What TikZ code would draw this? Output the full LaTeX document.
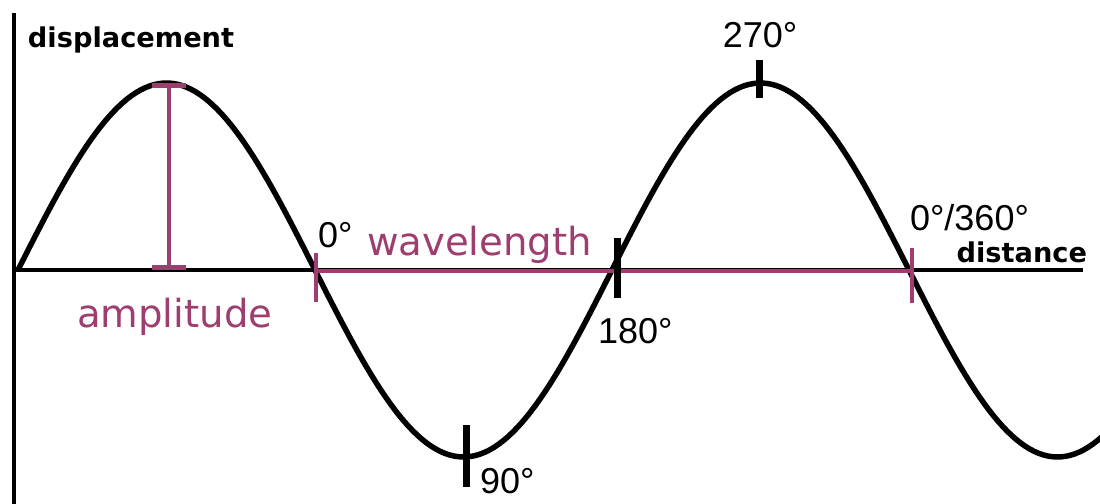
\documentclass[tikz,border=0pt]{standalone}
\usepackage{fontspec}
\setmainfont{DejaVu Sans}
\newfontfamily\degfont{Liberation Sans}
\usetikzlibrary{positioning, calc}

\definecolor{wavepurple}{RGB}{158,62,112}

\begin{document}
\begin{tikzpicture}[x=0.02cm, y=-0.02cm,
        every node/.style={draw=none, inner sep=0pt, outer sep=0pt},
        axisline/.style={line width=0.09cm, black},
        waveline/.style={line width=0.11cm, black},
        purpleline/.style={line width=0.085cm, wavepurple},
        degtick/.style={line width=0.14cm, black},
        axislabel/.style={font=\fontsize{15.5}{18}\selectfont\bfseries},
        deglabel/.style={font=\degfont\fontsize{20.5}{24}\selectfont},
        purplelabel/.style={text=wavepurple, font=\fontsize{22}{26}\selectfont}]
        \useasboundingbox (0,0) rectangle (1100,504);

        % 軸
        \coordinate (origin) at (14,270);
        \coordinate (ytop) at (14,13);
        \coordinate (ybottom) at (14,510);
        \coordinate (xend) at (1083,270);
        \draw[axisline] (ytop) -- (ybottom);
        \draw[axisline] (origin) -- (xend);

        % 正弦波
        \draw[waveline] plot[domain=18:1102, samples=240]
            (\x, {270-187*sin((\x-18)/297*180)});

        % 振幅
        \coordinate (amptop) at (169,85);
        \coordinate (ampbot) at (169,267);
        \draw[purpleline] (amptop) -- (ampbot);
        \draw[purpleline, line width=0.1cm] ($(amptop)+(-17,0)$) -- ($(amptop)+(17,0)$);
        \draw[purpleline, line width=0.1cm] ($(ampbot)+(-17,0)$) -- ($(ampbot)+(17,0)$);

        % 波長
        \coordinate (wlstart) at (316,271);
        \coordinate (wlend) at (912,271);
        \draw[purpleline] (wlstart) -- (wlend);
        \draw[purpleline] ($(wlstart)+(0,-18)$) -- ($(wlstart)+(0,31)$);
        \draw[purpleline] ($(wlend)+(0,-23)$) -- ($(wlend)+(0,32)$);

        % 位相の目盛り
        \coordinate (p90) at (466,456);
        \coordinate (p180) at (617,270);
        \coordinate (p270) at (759,80);
        \draw[degtick] ($(p90)+(0,-31)$) -- ($(p90)+(0,31)$);
        \draw[degtick] ($(p180)+(0,-32)$) -- ($(p180)+(0,28)$);
        \draw[degtick] ($(p270)+(0,-20)$) -- ($(p270)+(0,18)$);

        % ラベル
        \node[axislabel, anchor=base west] (disp) at (28,47) {displacement};
        \node[axislabel, anchor=base east] (dist) at (1087,262) {distance};
        \node[deglabel, anchor=base west] (d0) at (318,247) {0°};
        \node[deglabel, anchor=base west] (d90) at (480,493) {90°};
        \node[deglabel, anchor=base west] (d180) at (598,343) {180°};
        \node[deglabel, anchor=base] (d270) at (760,47) {270°};
        \node[deglabel, anchor=base west] (d360) at (910,230) {0°/360°};
        \node[purplelabel, anchor=base west] (wl) at (367,255) {wavelength};
        \node[purplelabel, anchor=base west] (amp) at (77,327) {amplitude};
    \end{tikzpicture}
\end{document}
